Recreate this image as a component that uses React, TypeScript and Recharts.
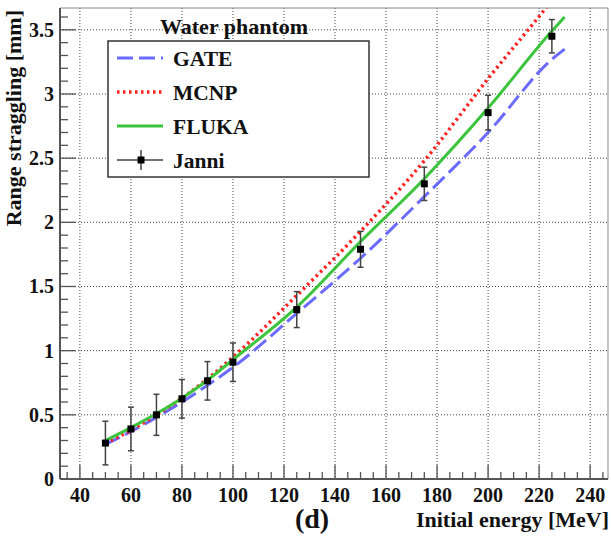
import React from 'react';
import {
  ComposedChart, Line, Scatter, ErrorBar, XAxis, YAxis, CartesianGrid,
  ReferenceLine, Legend,
} from 'recharts';

// ---- data ----
const energy = [50, 60, 70, 80, 90, 100, 125, 150, 175, 200, 225, 230];
const gate = [0.27, 0.37, 0.48, 0.6, 0.73, 0.87, 1.29, 1.72, 2.2, 2.7, 3.27, 3.35];
const mcnp = [0.28, 0.38, 0.5, 0.63, 0.78, 0.95, 1.43, 1.93, 2.48, 3.12, 3.73, 3.86];
const fluka = [0.3, 0.4, 0.51, 0.63, 0.77, 0.93, 1.34, 1.85, 2.34, 2.89, 3.49, 3.6];

const janniEnergy = [50, 60, 70, 80, 90, 100, 125, 150, 175, 200, 225];
const janniRange = [0.28, 0.39, 0.5, 0.625, 0.765, 0.91, 1.32, 1.79, 2.3, 2.855, 3.45];
const janniErr = [0.17, 0.17, 0.16, 0.15, 0.15, 0.15, 0.14, 0.14, 0.13, 0.135, 0.13];

const xMajorTicks = [40, 60, 80, 100, 120, 140, 160, 180, 200, 220, 240];
const xMinorStep = 5;
const yMajorTicks = [0, 0.5, 1, 1.5, 2, 2.5, 3, 3.5];
const yMinorStep = 0.1;

const X_DOMAIN: [number, number] = [32.2, 247];
const Y_DOMAIN: [number, number] = [0, 3.67];

const xTicks: number[] = [];
for (let v = 35; v <= 245; v += xMinorStep) xTicks.push(v);
const yTicks: number[] = [];
for (let i = 0; i <= 36; i++) yTicks.push(Math.round(i * yMinorStep * 10) / 10);

const gateData = energy.map((e, i) => ({ x: e, y: gate[i] }));
const mcnpData = energy.map((e, i) => ({ x: e, y: mcnp[i] }));
const flukaData = energy.map((e, i) => ({ x: e, y: fluka[i] }));
const janniData = janniEnergy.map((e, i) => ({ x: e, y: janniRange[i], err: janniErr[i] }));

const FONT = '"Liberation Serif", "Times New Roman", serif';
const GATE_C = '#6b6bff';
const MCNP_C = '#ff2020';
const FLUKA_C = '#3cc43c';
const AXIS_C = '#555';

const isMajorX = (v: number) => Math.abs(v % 20) < 1e-6;
const isMajorY = (v: number) => yMajorTicks.some((m) => Math.abs(m - v) < 1e-6);

const XTick = (props: any) => {
  const { x, y, payload } = props;
  const v = payload.value;
  const major = isMajorX(v);
  return (
    <g>
      <line x1={x} y1={y} x2={x} y2={y - (major ? 14 : 7)} stroke={AXIS_C} strokeWidth={1.3} />
      {major && (
        <text x={x} y={y + 23} textAnchor="middle" fontFamily={FONT} fontWeight="bold" fontSize={20} fill="#111">
          {v}
        </text>
      )}
    </g>
  );
};

const YTick = (props: any) => {
  const { x, y, payload } = props;
  const v = payload.value;
  const major = isMajorY(v);
  return (
    <g>
      <line x1={x} y1={y} x2={x + (major ? 16 : 8)} y2={y} stroke={AXIS_C} strokeWidth={1.3} />
      {major && (
        <text x={x - 6} y={y + 7} textAnchor="end" fontFamily={FONT} fontWeight="bold" fontSize={20} fill="#111">
          {v}
        </text>
      )}
    </g>
  );
};

const JanniShape = (props: any) => {
  const { cx, cy } = props;
  return <rect x={cx - 3.5} y={cy - 3.5} width={7} height={7} fill="#000" />;
};

const legendItems = [
  { name: 'GATE', color: GATE_C, dash: '16 6', width: 3 },
  { name: 'MCNP', color: MCNP_C, dash: '2.5 3.5', width: 3.5 },
  { name: 'FLUKA', color: FLUKA_C, dash: undefined, width: 3 },
];

const LegendContent = () => (
  <svg width={611} height={185} style={{ display: 'block', overflow: 'visible' }}>
    <text x={160} y={34} fontFamily={FONT} fontWeight="bold" fontSize={22} fill="#111">Water phantom</text>
    <rect x={108} y={41} width={261} height={136} fill="#fff" stroke="#333" strokeWidth={1.5} />
    {legendItems.map((it, i) => {
      const cy = 58 + i * 34;
      return (
        <g key={it.name}>
          <line x1={117} x2={163} y1={cy} y2={cy} stroke={it.color} strokeWidth={it.width} strokeDasharray={it.dash} />
          <text x={173} y={cy + 8} fontFamily={FONT} fontWeight="bold" fontSize={21.5} fill="#111">{it.name}</text>
        </g>
      );
    })}
    <g>
      <line x1={117} x2={163} y1={160} y2={160} stroke="#444" strokeWidth={1.5} />
      <line x1={141} x2={141} y1={150} y2={170} stroke="#444" strokeWidth={1.5} />
      <rect x={137.5} y={156.5} width={7} height={7} fill="#000" />
      <text x={173} y={168} fontFamily={FONT} fontWeight="bold" fontSize={21.5} fill="#111">Janni</text>
    </g>
  </svg>
);

const YLabel = (props: any) => {
  const vb = props.viewBox || { x: 0, y: 8 };
  return (
    <text
      transform={`translate(${vb.x + 21},${vb.y + 2}) rotate(-90)`}
      textAnchor="end"
      fontFamily={FONT}
      fontWeight="bold"
      fontSize={22}
      fill="#111"
    >
      Range straggling [mm]
    </text>
  );
};

const XLabel = (props: any) => {
  const vb = props.viewBox || { x: 60, y: 479, width: 548 };
  return (
    <g>
      <text x={vb.x + vb.width + 1} y={vb.y + 48} textAnchor="end" fontFamily={FONT} fontWeight="bold" fontSize={22} fill="#111">
        Initial energy [MeV]
      </text>
      <text x={312} y={vb.y + 49} textAnchor="middle" fontFamily={FONT} fontWeight="bold" fontSize={28} fill="#111">
        (d)
      </text>
    </g>
  );
};

export default function App() {
  return (
    <div style={{ position: 'absolute', left: 0, top: 0, background: '#fff' }}>
      <ComposedChart width={611} height={536} margin={{ top: 8, right: 3, left: 0, bottom: 0 }}>
        <CartesianGrid
          stroke="#444"
          strokeDasharray="1 2"
          horizontalValues={yMajorTicks}
          verticalValues={xMajorTicks}
        />
        <XAxis
          type="number"
          dataKey="x"
          domain={X_DOMAIN}
          allowDataOverflow
          ticks={xTicks}
          interval={0}
          tick={<XTick />}
          tickLine={false}
          tickSize={0}
          tickMargin={0}
          height={57}
          axisLine={{ stroke: AXIS_C, strokeWidth: 2 }}
          label={<XLabel />}
        />
        <YAxis
          type="number"
          dataKey="y"
          domain={Y_DOMAIN}
          allowDataOverflow
          ticks={yTicks}
          interval={0}
          tick={<YTick />}
          tickLine={false}
          tickSize={0}
          tickMargin={0}
          width={60}
          axisLine={{ stroke: AXIS_C, strokeWidth: 2 }}
          label={<YLabel />}
        />
        <ReferenceLine y={Y_DOMAIN[1]} stroke="#888" strokeWidth={1} />
        <ReferenceLine x={X_DOMAIN[1]} stroke="#888" strokeWidth={1} />
        <Line data={gateData} dataKey="y" type="monotone" stroke={GATE_C} strokeWidth={3} strokeDasharray="16 6" dot={false} isAnimationActive={false} legendType="none" />
        <Line data={mcnpData} dataKey="y" type="monotone" stroke={MCNP_C} strokeWidth={3.5} strokeDasharray="2.5 3.5" dot={false} isAnimationActive={false} legendType="none" />
        <Line data={flukaData} dataKey="y" type="monotone" stroke={FLUKA_C} strokeWidth={3} dot={false} isAnimationActive={false} legendType="none" />
        <Scatter data={janniData} dataKey="y" shape={<JanniShape />} isAnimationActive={false} legendType="none">
          <ErrorBar dataKey="err" direction="y" width={3} stroke="#444" strokeWidth={1.5} />
        </Scatter>
        <Legend
          layout="horizontal"
          verticalAlign="middle"
          content={<LegendContent />}
          wrapperStyle={{ left: 0, top: 0, width: 611, height: 185, pointerEvents: 'none' }}
        />
      </ComposedChart>
    </div>
  );
}
